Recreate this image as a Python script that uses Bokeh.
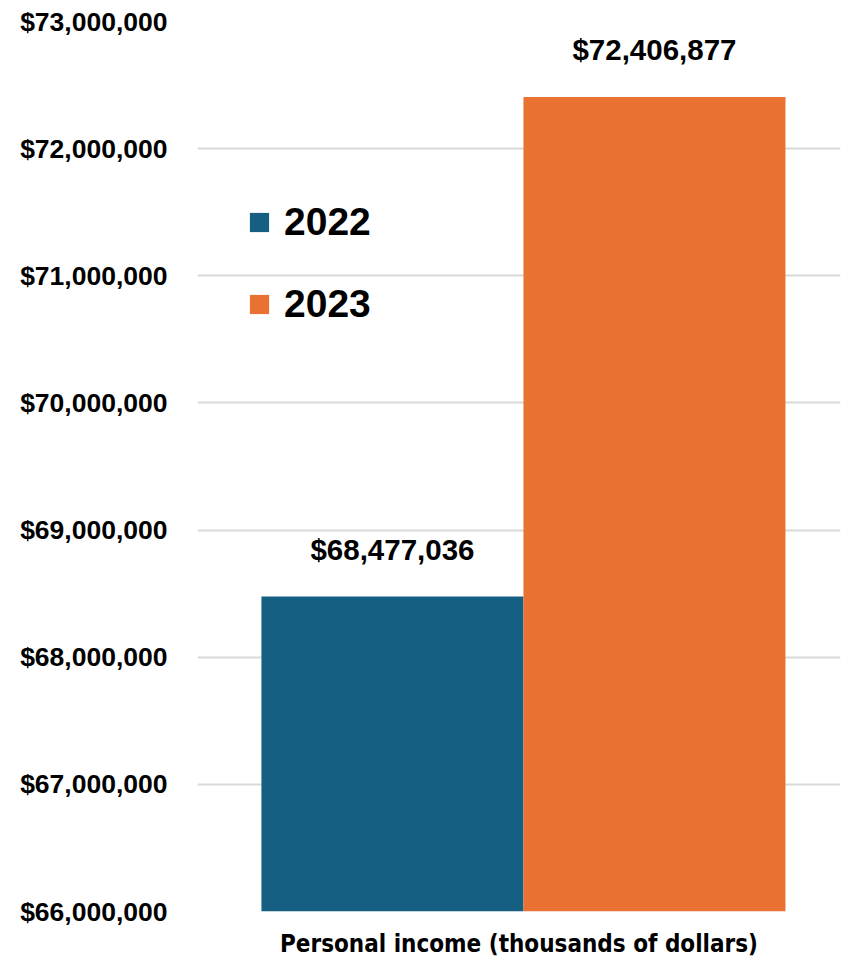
from bokeh.plotting import figure
from bokeh.models import (ColumnDataSource, Range1d, NumeralTickFormatter, FixedTicker,
                          Legend, LegendItem)
from bokeh.core.properties import value
from bokeh.embed import file_html
from bokeh.resources import INLINE

# ---- data ----
years = ["2022", "2023"]
income = [68477036, 72406877]
labels = ["$68,477,036", "$72,406,877"]
colors = ["#156082", "#E97132"]
y_ticks = [66000000, 67000000, 68000000, 69000000, 70000000, 71000000, 72000000, 73000000]
x_title = "Personal income (thousands of dollars)"

src = ColumnDataSource(dict(
    x=[i + 0.5 for i in range(len(years))],
    top=income,
    year=years,
    label=labels,
    color=colors,
))

p = figure(width=847, height=960, output_backend="svg", toolbar_location=None,
           x_range=Range1d(-0.244, 2.21), y_range=Range1d(66000000, 73000000),
           min_border_left=197, min_border_right=7, min_border_top=21, min_border_bottom=49)
p.outline_line_color = None
p.background_fill_color = "white"
p.border_fill_color = "white"

r = p.vbar(x="x", top="top", bottom=66000000, width=1.0, source=src,
           fill_color="color", line_color=None)

p.text(x="x", y="top", text="label", source=src, text_align="center",
       text_baseline="middle", y_offset=-47, text_font=value("Liberation Sans"),
       text_font_style="bold", text_font_size="29.5px", text_color="black")

# y axis
p.yaxis.ticker = FixedTicker(ticks=y_ticks)
p.yaxis.formatter = NumeralTickFormatter(format="$0,0")
p.yaxis.major_label_text_font = "Liberation Sans"
p.yaxis.major_label_text_font_style = "bold"
p.yaxis.major_label_text_font_size = "26.5px"
p.yaxis.major_label_text_color = "black"
p.yaxis.axis_line_color = None
p.yaxis.major_tick_line_color = None
p.yaxis.minor_tick_line_color = None
p.yaxis.major_label_standoff = 24

# x axis
p.xaxis.ticker = FixedTicker(ticks=[])
p.xaxis.axis_line_color = None
p.xaxis.major_tick_line_color = None
p.xaxis.minor_tick_line_color = None
p.xaxis.axis_label = x_title
p.xaxis.axis_label_text_font = "DejaVu Sans Condensed"
p.xaxis.axis_label_text_font_style = "bold"
p.xaxis.axis_label_text_font_size = "24px"
p.xaxis.axis_label_text_color = "black"
p.xaxis.axis_label_standoff = 18

p.xgrid.grid_line_color = None
p.ygrid.grid_line_color = "#D9D9D9"
p.ygrid.grid_line_width = 2
p.ygrid.level = "underlay"

legend = Legend(items=[LegendItem(label=years[i], renderers=[r], index=i) for i in range(len(years))],
                location=(50, 585), orientation="vertical",
                label_text_font="Liberation Sans", label_text_font_style="bold",
                label_text_font_size="39px", label_text_color="black",
                glyph_width=24, glyph_height=24, label_standoff=13, spacing=38,
                padding=0, margin=0, border_line_color=None, background_fill_alpha=0)
p.add_layout(legend, "center")

open("out.html", "w").write(file_html(p, INLINE))
